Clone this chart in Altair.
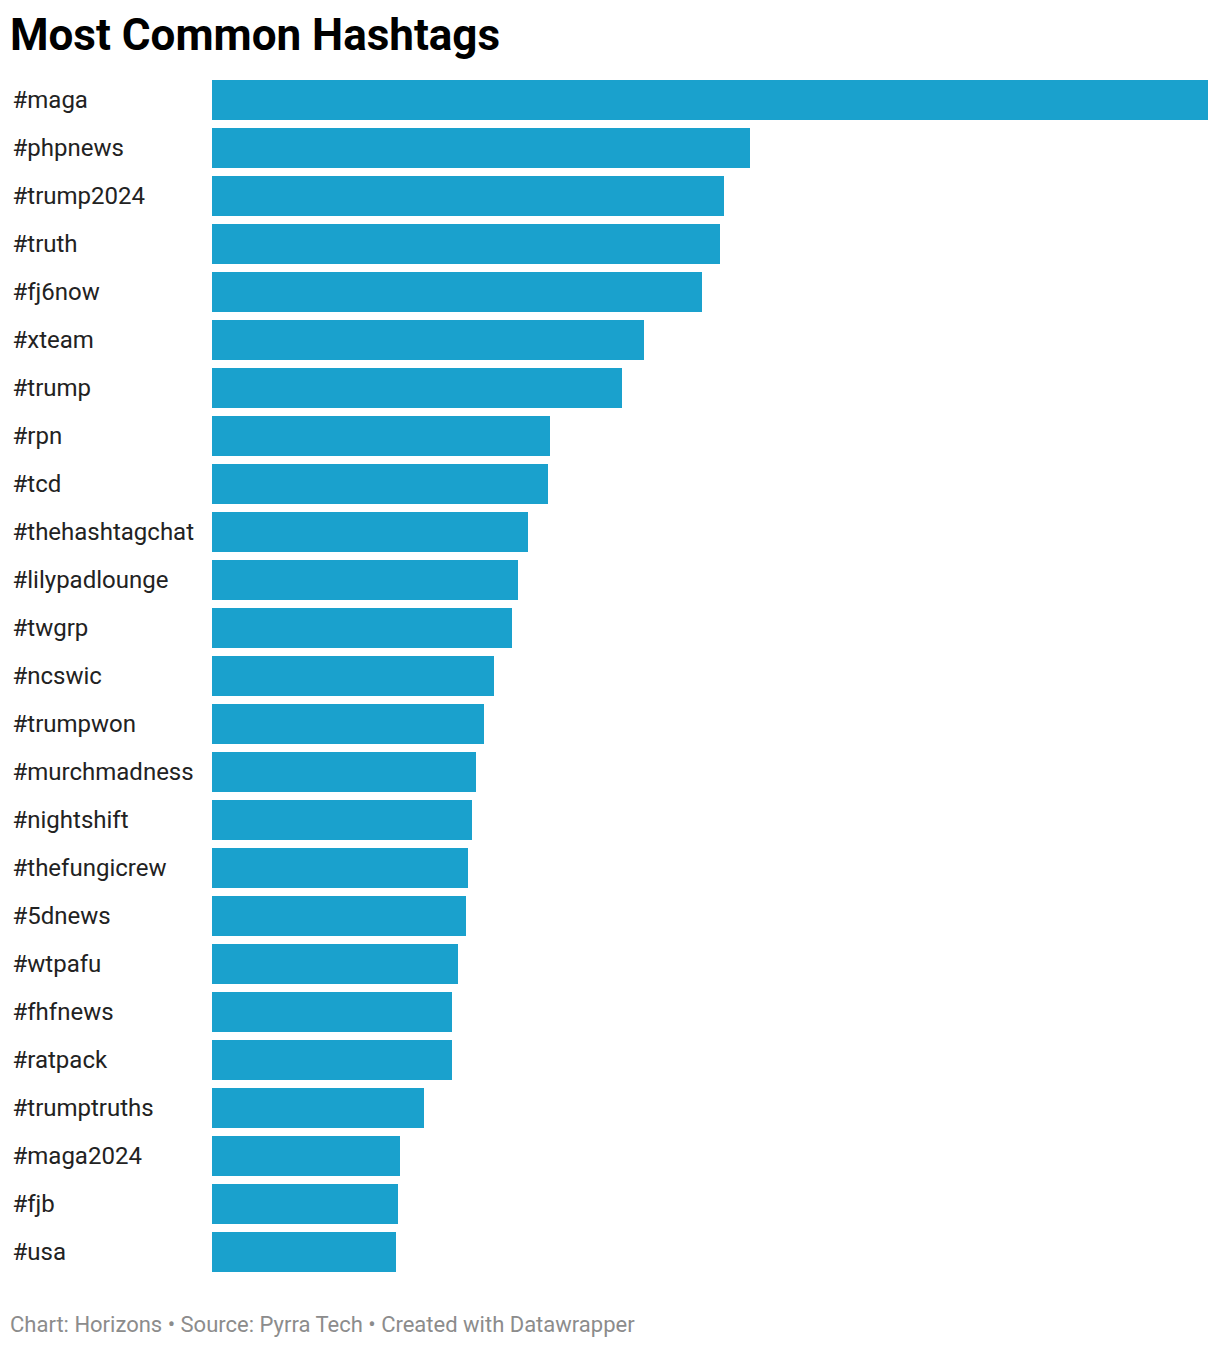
import altair as alt
import pandas as pd

tags = ["#maga", "#phpnews", "#trump2024", "#truth", "#fj6now", "#xteam", "#trump",
        "#rpn", "#tcd", "#thehashtagchat", "#lilypadlounge", "#twgrp", "#ncswic",
        "#trumpwon", "#murchmadness", "#nightshift", "#thefungicrew", "#5dnews",
        "#wtpafu", "#fhfnews", "#ratpack", "#trumptruths", "#maga2024", "#fjb", "#usa"]
counts = [996, 538, 512, 508, 490, 432, 410, 338, 336, 316, 306, 300, 282, 272, 264,
          260, 256, 254, 246, 240, 240, 212, 188, 186, 184]

title_text = "Most Common Hashtags"
footer_text = "Chart: Horizons \u2022 Source: Pyrra Tech \u2022 Created with Datawrapper"

df = pd.DataFrame({"tag": tags, "count": counts})

W, H = 996, 1200

bars = alt.Chart(df).mark_bar(color="#1aa1cd").encode(
    x=alt.X("count:Q", axis=None, scale=alt.Scale(domain=[0, 996], nice=False, zero=True)),
    y=alt.Y("tag:N", sort=tags, title=None,
            scale=alt.Scale(paddingInner=8 / 48, paddingOuter=4 / 48),
            axis=alt.Axis(labelAlign="left", labelPadding=200, ticks=False, tickSize=0,
                          domain=False, labelFont="Roboto", labelFontSize=24,
                          labelOffset=1, labelColor="#222222", labelLimit=300)),
)

title = alt.Chart(pd.DataFrame({"t": [title_text]})).mark_text(
    align="left", baseline="alphabetic", font="Roboto", fontSize=44, fontWeight="bold",
    color="#000000"
).encode(text="t:N", x=alt.value(-202), y=alt.value(-26))

footer = alt.Chart(pd.DataFrame({"t": [footer_text]})).mark_text(
    align="left", baseline="alphabetic", font="Roboto", fontSize=22, color="#8c8c8c"
).encode(text="t:N", x=alt.value(-202), y=alt.value(H + 56))

chart = alt.layer(bars, title, footer).properties(
    width=W, height=H,
    autosize=alt.AutoSizeParams(type="none"),
    padding={"left": 204, "top": 68, "right": 4, "bottom": 70},
).configure_view(stroke=None)

chart.save("out.html", embed_options={"renderer": "svg", "actions": False})
